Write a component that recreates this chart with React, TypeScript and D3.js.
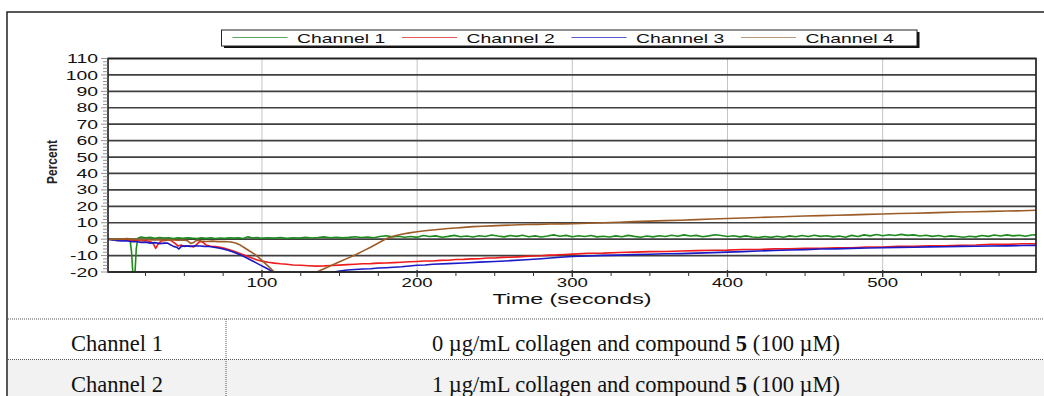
import React from "react";
import * as d3 from "d3";

type Pt = [number, number];

// Aggregation traces: [time in seconds, percent]
const channel1: Pt[] = [
  [0.8, 0], [4, -0.2], [7, 0.1], [10, -0.2], [13, 0], [15, -0.3], [16, -8], [17, -24], [18, -24], [19, -6],
  [20, 0.6], [22, 1.3], [25, 0.9], [28, 1.1], [31, 0.6], [34, 1.0], [37, 0.7], [40, 0.9], [43, 0.4], [46, 0.8],
  [49, 0.5], [52, 0.9], [55, 0.6], [58, 0.4], [61, 0.8], [64, 0.5], [67, 0.9], [70, 0.4], [73, 0.7], [76, 0.5],
  [79, 0.9], [82, 0.6], [85, 0.8], [88, 0.4], [91, 1.4], [94, 0.7], [97, 1.0], [100, 0.6], [104, 0.9], [108, 0.6],
  [112, 1.0], [116, 0.5], [120, 0.9], [124, 0.6], [128, 1.1], [132, 0.7], [136, 1.0], [140, 1.4], [144, 0.9], [148, 1.2],
  [152, 0.8], [156, 1.1], [160, 1.5], [164, 1.0], [168, 1.3], [172, 0.9], [176, 1.6], [180, 2.1], [184, 1.4], [188, 1.8],
  [192, 1.2], [196, 1.6], [200, 1.1], [204, 2.2], [208, 1.6], [212, 2.0], [216, 1.2], [220, 1.7], [224, 2.3], [228, 1.5],
  [232, 1.9], [236, 1.3], [240, 2.1], [244, 1.6], [248, 2.5], [252, 1.9], [256, 1.4], [260, 2.2], [264, 1.7], [268, 2.4],
  [272, 1.5], [276, 2.0], [280, 1.3], [284, 1.9], [288, 2.6], [292, 1.8], [296, 2.3], [300, 1.5], [304, 2.1], [308, 1.6],
  [312, 2.2], [316, 1.4], [320, 1.8], [324, 1.3], [328, 2.0], [332, 1.5], [336, 2.3], [340, 1.7], [344, 1.2], [348, 1.9],
  [352, 1.4], [356, 2.1], [360, 1.6], [364, 2.4], [368, 1.8], [372, 2.6], [376, 1.9], [380, 2.3], [384, 1.5], [388, 2.0],
  [392, 2.7], [396, 2.2], [400, 1.6], [404, 2.1], [408, 1.4], [412, 2.0], [416, 1.3], [420, 1.0], [424, 1.6], [428, 1.1],
  [432, 1.8], [436, 1.2], [440, 2.0], [444, 1.5], [448, 2.2], [452, 1.6], [456, 2.4], [460, 1.7], [464, 2.1], [468, 1.4],
  [472, 1.9], [476, 1.2], [480, 2.3], [484, 1.6], [488, 2.6], [492, 2.0], [496, 2.8], [500, 2.1], [504, 2.7], [508, 2.2],
  [512, 2.9], [516, 2.3], [520, 2.6], [524, 1.9], [528, 2.4], [532, 1.7], [536, 2.2], [540, 1.5], [544, 2.0], [548, 1.6],
  [552, 1.2], [556, 1.8], [560, 1.4], [564, 2.2], [568, 1.7], [572, 2.5], [576, 1.9], [580, 2.6], [584, 2.0], [588, 2.4],
  [592, 1.8], [596, 2.5], [598.8, 2.6],
];

const channel2: Pt[] = [
  [0.8, 0], [4, -0.4], [7, -0.2], [10, -0.6], [13, -0.4], [16, -0.9], [19, -0.7], [22, -1.1], [25, -0.8], [28, -1.4],
  [30, -2.8], [31.5, -5.6], [33, -3.2], [35, -1.1], [38, -0.8], [40, -0.4], [42, -1.2], [44, -2.6], [46, -4.2], [48, -3.6],
  [50, -4.5], [53, -4.0], [56, -4.7], [58, -3.2], [60, -1.4], [62, -1.8], [64, -3.6], [67, -4.3], [70, -4.5], [73, -5.0],
  [76, -5.6], [79, -6.4], [82, -7.4], [85, -8.5], [88, -9.5], [91, -10.6], [94, -11.7], [97, -12.7], [100, -13.4], [104, -14.1],
  [108, -14.6], [112, -15.0], [116, -15.3], [120, -15.7], [125, -15.9], [130, -16.2], [135, -16.4], [140, -16.3], [145, -16.0], [150, -15.8],
  [155, -15.5], [160, -15.3], [165, -15.0], [170, -14.9], [175, -14.6], [180, -14.5], [185, -14.3], [190, -14.1], [195, -13.8], [200, -13.6],
  [205, -13.3], [210, -13.3], [215, -12.9], [220, -12.8], [225, -12.4], [230, -12.3], [235, -12.0], [240, -11.9], [245, -11.5], [250, -11.5],
  [255, -11.1], [260, -11.0], [265, -10.8], [270, -10.5], [275, -10.3], [280, -10.1], [285, -9.7], [290, -9.6], [295, -9.3], [300, -9.1],
  [310, -8.6], [320, -8.5], [330, -8.1], [340, -7.9], [350, -7.6], [360, -7.5], [370, -7.2], [380, -7.0], [390, -6.8], [400, -6.7],
  [410, -6.3], [420, -6.3], [430, -5.9], [440, -5.9], [450, -5.6], [460, -5.5], [470, -5.2], [480, -5.2], [490, -4.8], [500, -4.8],
  [510, -4.4], [520, -4.4], [530, -4.0], [540, -4.0], [550, -3.7], [560, -3.6], [570, -3.2], [580, -3.2], [590, -2.8], [598.8, -2.8],
];

const channel3: Pt[] = [
  [0.8, 0], [4, -0.5], [7, -0.9], [10, -1.1], [13, -1.0], [16, -1.6], [19, -1.4], [22, -2.0], [25, -1.8], [28, -2.4],
  [31, -2.1], [34, -2.7], [37, -2.4], [39, -2.3], [41, -3.4], [43, -4.4], [45, -4.9], [46.5, -6.0], [48, -4.4], [51, -4.1],
  [54, -4.4], [57, -4.0], [60, -4.2], [63, -4.4], [66, -4.5], [69, -4.9], [72, -5.4], [75, -6.0], [78, -6.8], [81, -7.7],
  [84, -8.8], [87, -10.0], [90, -11.3], [93, -12.8], [96, -14.3], [99, -15.8], [102, -17.3], [105, -18.8], [108, -20.2], [112, -21.6],
  [118, -22.6], [125, -23.0], [132, -22.6], [139, -21.6], [145, -20.3], [150, -19.4], [155, -18.8], [160, -18.5], [165, -18.2], [170, -18.0],
  [175, -17.6], [180, -17.4], [185, -17.1], [190, -16.8], [195, -16.3], [200, -15.9], [205, -15.7], [210, -15.3], [220, -14.9], [230, -14.5],
  [240, -14.0], [250, -13.6], [260, -13.1], [270, -12.5], [280, -11.9], [290, -11.2], [300, -10.6], [310, -10.3], [320, -9.9], [330, -9.7],
  [340, -9.4], [350, -9.2], [360, -8.9], [370, -8.8], [380, -8.5], [390, -8.2], [400, -7.9], [410, -7.6], [420, -7.2], [430, -6.9],
  [440, -6.6], [450, -6.4], [460, -6.0], [470, -5.9], [480, -5.6], [490, -5.4], [500, -5.2], [510, -5.0], [520, -4.9], [530, -4.7],
  [540, -4.6], [550, -4.4], [560, -4.3], [570, -4.2], [580, -4.1], [590, -3.9], [598.8, -3.8],
];

const channel4: Pt[] = [
  [0.8, 0], [5, -0.2], [9, 0.1], [13, 0.3], [17, 0], [21, -0.3], [25, -0.1], [29, -0.5], [33, -0.3], [37, -0.6],
  [41, -0.4], [45, -0.7], [49, -0.5], [52, -0.9], [54, -2.6], [56, -2.0], [58, -0.6], [61, -1.1], [64, -1.4], [68, -1.2],
  [72, -1.5], [76, -1.4], [80, -1.7], [83, -2.4], [86, -3.6], [89, -5.4], [92, -7.2], [95, -9.0], [98, -11.2], [101, -13.8],
  [104, -16.4], [107, -19.2], [110, -22.0], [114, -25.0], [120, -27.0], [127, -25.5], [132, -22.5], [135, -20.2], [140, -18.0], [145, -15.9],
  [150, -13.8], [155, -11.7], [160, -9.6], [165, -7.3], [170, -4.9], [175, -2.3], [180, 0.2], [185, 1.9], [190, 3.0], [195, 3.8],
  [200, 4.5], [205, 5.1], [210, 5.6], [215, 6.0], [220, 6.5], [225, 6.8], [230, 7.2], [236, 7.6], [242, 7.9], [248, 8.1],
  [255, 8.4], [262, 8.6], [270, 8.9], [278, 9.0], [286, 9.2], [294, 9.3], [300, 9.4], [310, 9.7], [320, 10.0], [330, 10.3],
  [340, 10.7], [350, 11.0], [360, 11.3], [370, 11.5], [380, 11.9], [390, 12.3], [400, 12.6], [410, 12.9], [420, 13.2], [430, 13.5],
  [440, 13.8], [450, 14.1], [460, 14.3], [470, 14.6], [480, 14.8], [490, 15.1], [500, 15.3], [510, 15.6], [520, 15.8], [530, 16.0],
  [540, 16.3], [550, 16.5], [560, 16.7], [570, 16.9], [580, 17.1], [590, 17.3], [598.8, 17.6],
];

const channelNames = ["Channel 1", "Channel 2", "Channel 3", "Channel 4"];
const channelColors = ["#1e8a1e", "#ee1c1c", "#1a1ac8", "#9c5c28"];
const legendColors = ["#5fa55f", "#e45a5a", "#5a5ad0", "#b8987a"];
const channels = [channel1, channel2, channel3, channel4];

const yTickValues = [-20, -10, 0, 10, 20, 30, 40, 50, 60, 70, 80, 90, 100, 110];
const xTickValues = [100, 200, 300, 400, 500];
const xAxisTitle = "Time (seconds)";
const yAxisTitle = "Percent";

const tableChannels = ["Channel 1", "Channel 2"];
const tableCollagen = ["0", "1"];

const W = 1044;
const H = 396;
const plot = { left: 108, right: 1036, top: 58.5, bottom: 272 };
const SX = 1.55; // horizontal stretch of the chart lettering

export default function App() {
  const x = d3.scaleLinear().domain([0.8, 598.8]).range([plot.left, plot.right]);
  const y = d3.scaleLinear().domain([-20, 110]).range([plot.bottom, plot.top]);
  const line = d3
    .line<Pt>()
    .x((d) => x(d[0]))
    .y((d) => y(d[1]));

  const yMinor = d3.range(-20, 111, 2);
  const xMinor = d3.range(25, 599, 25);
  const tableTop = 319;
  const rowH = 40.5;
  const colX = 226;

  const sans = "'Liberation Sans', Arial, Helvetica, sans-serif";
  const serif = "'Liberation Serif', 'Times New Roman', serif";

  return (
    <div style={{ position: "fixed", left: 0, top: 0 }}>
      <svg width={W} height={H} viewBox={`0 0 ${W} ${H}`} style={{ display: "block", background: "#fff" }}>
        <defs>
          <clipPath id="plot-clip">
            <rect x={plot.left} y={plot.top} width={plot.right - plot.left} height={plot.bottom - plot.top} />
          </clipPath>
        </defs>

        {/* table rows */}
        <rect x={8} y={tableTop + rowH} width={W} height={H - tableTop - rowH} fill="#f2f2f2" />
        <line x1={8} x2={W} y1={tableTop} y2={tableTop} stroke="#555" strokeDasharray="1,1" />
        <line x1={8} x2={W} y1={tableTop + rowH} y2={tableTop + rowH} stroke="#555" strokeDasharray="1,1" />
        <line x1={colX} x2={colX} y1={tableTop} y2={H} stroke="#555" strokeDasharray="1,1" />
        {tableChannels.map((name, i) => (
          <g key={name} fontFamily={serif} fontSize={22.5} fill="#111">
            <text x={117} y={tableTop + 32 + i * rowH} textAnchor="middle">
              {name}
            </text>
            <text x={636} y={tableTop + 32 + i * rowH} textAnchor="middle">
              {tableCollagen[i]} µg/mL collagen and compound <tspan fontWeight="bold">5</tspan> (100 µM)
            </text>
          </g>
        ))}

        {/* outer frame */}
        <path d={`M7,${H} V12 H${W}`} fill="none" stroke="#222" strokeWidth={1.5} />

        {/* legend */}
        <rect x={224} y={32} width={695.5} height={16} fill="#111" />
        <rect x={221.5} y={30} width={695.5} height={16} fill="#fff" stroke="#222" strokeWidth={1} />
        {channelNames.map((name, i) => {
          const x0 = 232.5 + 169.5 * i;
          return (
            <g key={name}>
              <line x1={x0} x2={x0 + 55} y1={37.5} y2={37.5} stroke={legendColors[i]} strokeWidth={1.2} />
              <text
                transform={`translate(${x0 + 64.5},42.5) scale(${SX},1)`}
                fontFamily={sans}
                fontSize={12.5}
                fill="#111"
              >
                {name}
              </text>
            </g>
          );
        })}

        {/* vertical grid */}
        {xTickValues.map((t) => (
          <line key={`vg${t}`} x1={x(t)} x2={x(t)} y1={plot.top} y2={plot.bottom} stroke="#c4c4c4" strokeWidth={1} />
        ))}
        {/* horizontal grid */}
        {yTickValues.map((v) => (
          <line key={`hg${v}`} x1={plot.left} x2={plot.right} y1={y(v)} y2={y(v)} stroke="#404040" strokeWidth={1.7} />
        ))}

        {/* traces */}
        <g clipPath="url(#plot-clip)" fill="none" strokeWidth={1.6} strokeLinejoin="round">
          {channels.map((data, i) => (
            <path key={channelNames[i]} d={line(data) ?? ""} stroke={channelColors[i]} />
          ))}
        </g>

        {/* plot frame */}
        <rect
          x={plot.left}
          y={plot.top}
          width={plot.right - plot.left}
          height={plot.bottom - plot.top}
          fill="none"
          stroke="#222"
          strokeWidth={1.7}
        />

        {/* y ticks */}
        {yMinor.map((v) => (
          <line
            key={`yt${v}`}
            x1={plot.left - (v % 10 === 0 ? 7 : 5)}
            x2={plot.left}
            y1={y(v)}
            y2={y(v)}
            stroke="#777"
            strokeWidth={0.8}
          />
        ))}
        {yTickValues.map((v) => (
          <text
            key={`yl${v}`}
            transform={`translate(98,${y(v) + 4.6}) scale(${SX},1)`}
            textAnchor="end"
            fontFamily={sans}
            fontSize={12.5}
            fill="#111"
          >
            {v}
          </text>
        ))}

        {/* x ticks */}
        {xMinor.map((t) => (
          <line
            key={`xt${t}`}
            x1={x(t)}
            x2={x(t)}
            y1={plot.bottom - (t % 100 === 0 ? 2 : 0)}
            y2={plot.bottom + (t % 100 === 0 ? 5 : 4)}
            stroke="#333"
            strokeWidth={t % 100 === 0 ? 1.4 : 1}
          />
        ))}
        {xTickValues.map((t) => (
          <text
            key={`xl${t}`}
            transform={`translate(${x(t)},286.5) scale(${SX},1)`}
            textAnchor="middle"
            fontFamily={sans}
            fontSize={12}
            fill="#111"
          >
            {t}
          </text>
        ))}

        {/* axis titles */}
        <text
          transform={`translate(572,304) scale(${SX},1)`}
          textAnchor="middle"
          fontFamily={sans}
          fontSize={15}
          fill="#111"
        >
          {xAxisTitle}
        </text>
        <text
          transform="translate(57,162) scale(1.2,1) rotate(-90)"
          textAnchor="middle"
          fontFamily={sans}
          fontSize={12}
          fontWeight="bold"
          fill="#222"
        >
          {yAxisTitle}
        </text>
      </svg>
    </div>
  );
}
